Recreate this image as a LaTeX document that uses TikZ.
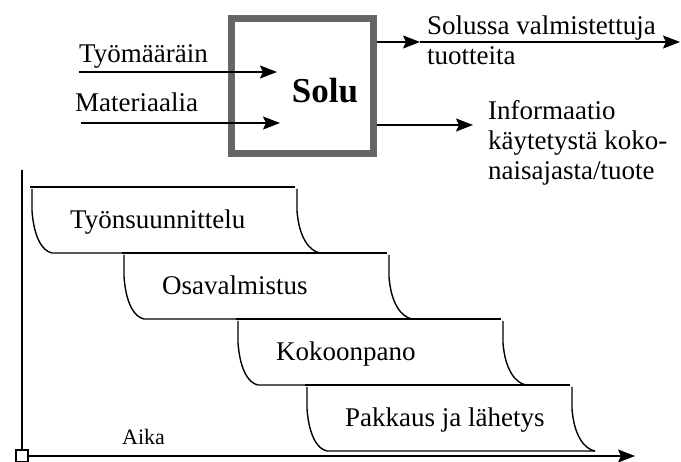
\documentclass[tikz,border=0pt]{standalone}
\usepackage{fontspec}
\setmainfont{Liberation Serif}
\usetikzlibrary{arrows.meta,positioning}

\tikzset{
  teksti/.style={font=\fontsize{27}{30}\selectfont, inner sep=0pt},
  viiva/.style={line width=1.4pt},
  nuoli/.style={line width=1.6pt, -{Stealth[length=17pt,width=13pt,inset=3pt]}},
}

% yksi vaihe: nimi, vasen reuna, yläreuna, teksti
\newcommand{\Vaihe}[4]{%
  \draw[viiva] (#2,#3) -- ({#2+265},#3);
  \draw[viiva] ({#2+2},{#3+2}) -- ({#2+2},{#3+24})
    .. controls ({#2+4},{#3+50}) and ({#2+12},{#3+64}) .. ({#2+22},{#3+66})
    -- ({#2+290},{#3+66});
  \draw[viiva] ({#2+267},{#3+2}) -- ({#2+267},{#3+24})
    .. controls ({#2+269},{#3+50}) and ({#2+279},{#3+64}) .. ({#2+290},{#3+66});
  \node[teksti, anchor=base west] (#1) at ({#2+40},{#3+42}) {#4};
}

\begin{document}
\begin{tikzpicture}[x=1pt,y=-1pt]
  \useasboundingbox (0,0) rectangle (681,462);

  % solu
  \node[draw=black!60, line width=7pt, minimum width=142pt, minimum height=135pt] (solu) at (302.5,86) {};
  \node[font=\fontsize{35}{40}\selectfont\bfseries] (solunimi) at (325,91) {Solu};

  % sisään
  \node[teksti, anchor=base west] (tyomaarain) at (79,63) {Työmääräin};
  \node[teksti, anchor=base west] (materiaalia) at (75,112) {Materiaalia};
  \coordinate (tyo-a) at (79,72);
  \coordinate (tyo-b) at (277,72);
  \coordinate (mat-a) at (81,123);
  \coordinate (mat-b) at (280,123);
  \draw[nuoli] (tyo-a) -- (tyo-b);
  \draw[nuoli] (mat-a) -- (mat-b);

  % ulos
  \coordinate (tuote) at (420,42);
  \coordinate (tuote-b) at (680,42);
  \coordinate (info) at (473,125);
  \draw[nuoli] (solu.east |- tuote) -- (tuote);
  \draw[nuoli] (tuote) -- (tuote-b);
  \draw[nuoli] (solu.east |- info) -- (info);
  \node[teksti, anchor=base west, align=left] (tuotteet) at (427,65) {Solussa valmistettuja\\tuotteita};
  \node[teksti, anchor=base west, align=left] (informaatio) at (488,180) {Informaatio\\käytetystä koko-\\naisajasta/tuote};

  % vaiheet
  \Vaihe{tyonsuunnittelu}{30}{187}{Työnsuunnittelu}
  \Vaihe{osavalmistus}{122}{253}{Osavalmistus}
  \Vaihe{kokoonpano}{236}{319}{Kokoonpano}
  \Vaihe{pakkaus}{305}{385}{Pakkaus ja lähetys}

  % aika-akseli
  \node[draw, line width=1.4pt, fill=white, minimum size=12pt, inner sep=0pt] (origo) at (22,456) {};
  \coordinate (ylos) at (22,170);
  \coordinate (aikaloppu) at (635,456);
  \draw[viiva] (origo.north) -- (ylos);
  \draw[nuoli] (origo.east) -- (aikaloppu);
  \node[font=\fontsize{22}{24}\selectfont, inner sep=0pt, anchor=base west] (aika) at (122,445) {Aika};
\end{tikzpicture}
\end{document}
